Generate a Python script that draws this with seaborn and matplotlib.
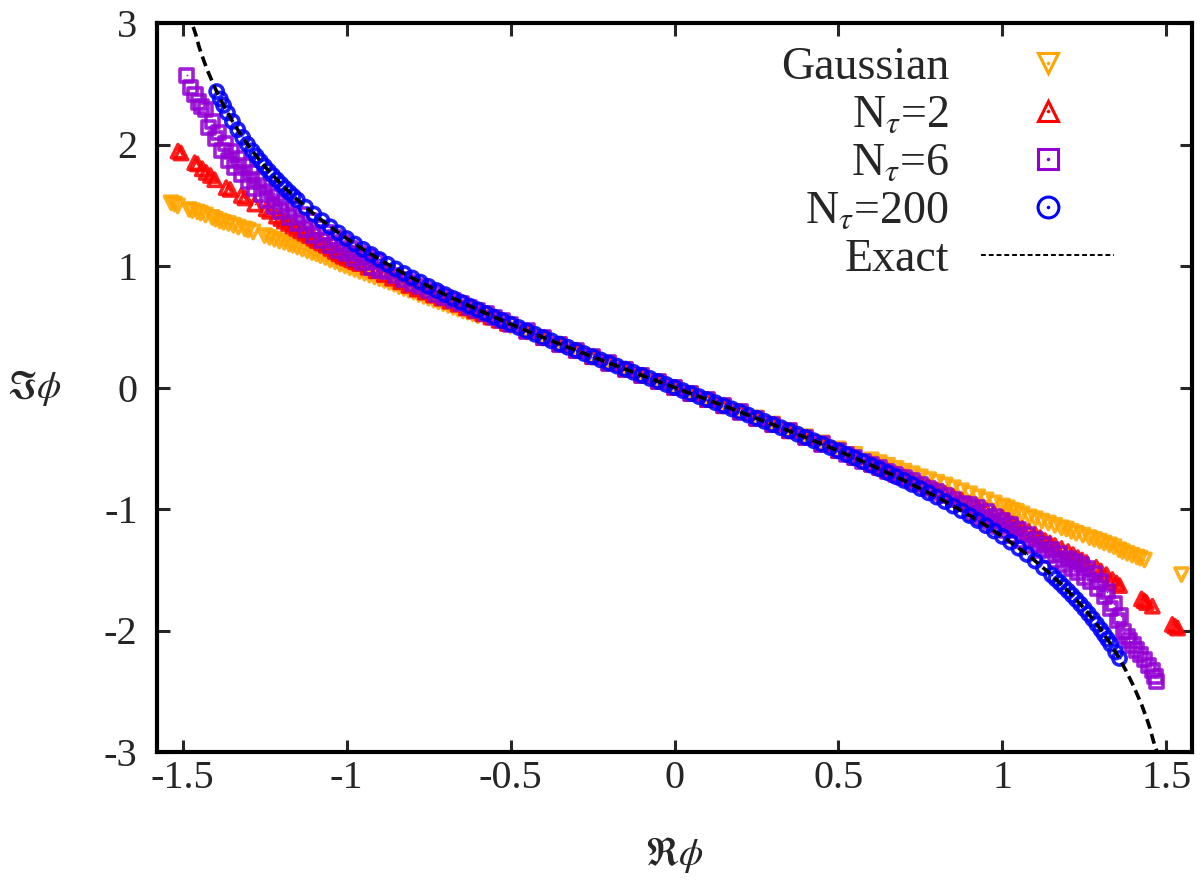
import matplotlib
matplotlib.use('Agg')
import matplotlib.pyplot as plt
from matplotlib.lines import Line2D
import pandas as pd
import seaborn as sns

# ---- data: (Re phi, Im phi) ----
gauss_points = [
    (-1.535, 1.52), (-1.525, 1.51), (-1.515, 1.495), (-1.48, 1.465), (-1.47, 1.455), (-1.455, 1.445),
    (-1.445, 1.435), (-1.43, 1.42), (-1.41, 1.40), (-1.40, 1.385), (-1.387, 1.37), (-1.375, 1.36),
    (-1.36, 1.35), (-1.345, 1.335), (-1.33, 1.32), (-1.31, 1.305), (-1.30, 1.295), (-1.285, 1.28),
    (-1.25, 1.25), (-1.235, 1.235), (-1.22, 1.22), (-1.205, 1.205), (-1.19, 1.195), (-1.175, 1.18),
    (-1.164, 1.17), (-1.15, 1.155), (-1.135, 1.14), (-1.12, 1.125), (-1.105, 1.11), (-1.092, 1.10),
    (-1.08, 1.085), (-1.065, 1.07), (-1.05, 1.05), (-1.035, 1.035), (-1.02, 1.015), (-1.005, 1.00),
    (-0.99, 0.985), (-0.975, 0.97), (-0.96, 0.955), (-0.945, 0.94), (-0.93, 0.925), (-0.915, 0.91),
    (-0.90, 0.895), (-0.885, 0.88), (-0.87, 0.865), (-0.855, 0.85), (-0.84, 0.83), (-0.825, 0.815),
    (-0.81, 0.80), (-0.795, 0.785), (-0.78, 0.765), (-0.765, 0.75), (-0.75, 0.735), (-0.735, 0.72),
    (-0.72, 0.705), (-0.705, 0.69), (-0.69, 0.675), (-0.675, 0.66), (-0.66, 0.645), (-0.645, 0.63),
    (-0.63, 0.62), (-0.615, 0.605), (-0.60, 0.59), (-0.575, 0.575), (-0.55, 0.55), (-0.525, 0.525),
    (-0.50, 0.505), (-0.45, 0.455), (-0.40, 0.405), (-0.35, 0.355), (-0.30, 0.30), (-0.25, 0.25),
    (-0.20, 0.20), (-0.15, 0.15), (-0.10, 0.10), (-0.05, 0.05), (0.0, 0.0), (0.05, -0.05),
    (0.10, -0.10), (0.15, -0.15), (0.20, -0.20), (0.25, -0.25), (0.30, -0.30), (0.35, -0.355),
    (0.40, -0.405), (0.45, -0.455), (0.50, -0.505), (0.55, -0.55), (0.60, -0.595), (0.625, -0.618),
    (0.65, -0.64), (0.675, -0.665), (0.70, -0.688), (0.725, -0.71), (0.75, -0.735), (0.775, -0.758),
    (0.80, -0.78), (0.825, -0.802), (0.85, -0.825), (0.875, -0.85), (0.90, -0.875), (0.925, -0.90),
    (0.95, -0.925), (0.975, -0.95), (1.0, -0.975), (1.015, -0.99), (1.03, -1.01), (1.043, -1.02),
    (1.06, -1.04), (1.082, -1.065), (1.10, -1.08), (1.12, -1.10), (1.14, -1.115), (1.16, -1.135),
    (1.18, -1.155), (1.195, -1.165), (1.21, -1.185), (1.225, -1.20), (1.245, -1.215), (1.265, -1.235),
    (1.28, -1.25), (1.296, -1.265), (1.31, -1.28), (1.326, -1.295), (1.34, -1.31), (1.355, -1.335),
    (1.366, -1.35), (1.38, -1.365), (1.395, -1.38), (1.41, -1.395), (1.42, -1.405), (1.433, -1.42),
    (1.546, -1.54),
]

n2_points = [
    (-1.514, 1.945), (-1.505, 1.93), (-1.463, 1.85), (-1.455, 1.84), (-1.44, 1.80), (-1.428, 1.77),
    (-1.415, 1.745), (-1.402, 1.71), (-1.367, 1.645), (-1.355, 1.63), (-1.321, 1.58), (-1.31, 1.56),
    (-1.28, 1.51), (-1.245, 1.47), (-1.235, 1.45), (-1.214, 1.41), (-1.20, 1.39), (-1.19, 1.37),
    (-1.177, 1.35), (-1.164, 1.33), (-1.152, 1.31), (-1.14, 1.29), (-1.127, 1.27), (-1.113, 1.25),
    (-1.10, 1.23), (-1.09, 1.21), (-1.076, 1.19), (-1.062, 1.17), (-1.048, 1.145), (-1.035, 1.12),
    (-1.023, 1.10), (-1.011, 1.08), (-0.998, 1.065), (-0.985, 1.05), (-0.972, 1.035), (-0.96, 1.02),
    (-0.935, 0.99), (-0.91, 0.96), (-0.885, 0.93), (-0.86, 0.90), (-0.835, 0.87), (-0.81, 0.84),
    (-0.785, 0.81), (-0.76, 0.785), (-0.735, 0.76), (-0.71, 0.735), (-0.685, 0.71), (-0.66, 0.685),
    (-0.635, 0.655), (-0.61, 0.63), (-0.585, 0.605), (-0.56, 0.58), (-0.535, 0.553), (-0.51, 0.527),
    (-0.45, 0.465), (-0.40, 0.41), (-0.35, 0.357), (-0.30, 0.305), (-0.25, 0.253), (-0.20, 0.201),
    (-0.15, 0.151), (-0.10, 0.10), (-0.05, 0.05), (0.0, 0.0), (0.05, -0.05), (0.10, -0.10),
    (0.15, -0.151), (0.20, -0.201), (0.25, -0.253), (0.30, -0.305), (0.35, -0.357), (0.40, -0.41),
    (0.45, -0.465), (0.50, -0.52), (0.55, -0.575), (0.60, -0.63), (0.625, -0.657), (0.65, -0.685),
    (0.675, -0.71), (0.70, -0.735), (0.725, -0.762), (0.75, -0.79), (0.775, -0.817), (0.80, -0.845),
    (0.825, -0.872), (0.85, -0.90), (0.875, -0.927), (0.90, -0.955), (0.925, -0.982), (0.95, -1.01),
    (0.975, -1.04), (1.0, -1.07), (1.015, -1.095), (1.03, -1.12), (1.045, -1.14), (1.06, -1.16),
    (1.08, -1.185), (1.10, -1.21), (1.115, -1.235), (1.13, -1.26), (1.145, -1.28), (1.16, -1.30),
    (1.18, -1.325), (1.20, -1.35), (1.215, -1.375), (1.23, -1.40), (1.243, -1.42), (1.256, -1.44),
    (1.286, -1.48), (1.30, -1.51), (1.317, -1.54), (1.335, -1.58), (1.348, -1.61), (1.357, -1.63),
    (1.424, -1.74), (1.432, -1.755), (1.439, -1.77), (1.457, -1.80), (1.518, -1.95), (1.526, -1.965),
    (1.534, -1.98),
]

n6_points = [
    (-1.488, 2.57), (-1.476, 2.47), (-1.462, 2.41), (-1.451, 2.35), (-1.442, 2.31), (-1.43, 2.29),
    (-1.42, 2.14), (-1.41, 2.19), (-1.40, 2.05), (-1.39, 2.10), (-1.38, 1.95), (-1.37, 2.01),
    (-1.36, 1.87), (-1.35, 1.94), (-1.34, 1.81), (-1.33, 1.88), (-1.32, 1.75), (-1.31, 1.825),
    (-1.30, 1.70), (-1.29, 1.77), (-1.28, 1.64), (-1.27, 1.715), (-1.26, 1.59), (-1.25, 1.665),
    (-1.24, 1.54), (-1.23, 1.615), (-1.22, 1.49), (-1.21, 1.57), (-1.20, 1.45), (-1.1875, 1.525),
    (-1.175, 1.40), (-1.1625, 1.475), (-1.15, 1.35), (-1.1375, 1.425), (-1.125, 1.30), (-1.1125, 1.375),
    (-1.10, 1.25), (-1.0875, 1.32), (-1.075, 1.21), (-1.0625, 1.275), (-1.05, 1.17), (-1.0375, 1.235),
    (-1.025, 1.13), (-1.0125, 1.19), (-1.00, 1.10), (-0.9875, 1.14), (-0.975, 1.06), (-0.9625, 1.105),
    (-0.95, 1.03), (-0.9375, 1.07), (-0.925, 0.99), (-0.9125, 1.035), (-0.90, 0.96), (-0.875, 0.955),
    (-0.85, 0.92), (-0.825, 0.89), (-0.80, 0.86), (-0.775, 0.83), (-0.75, 0.80), (-0.725, 0.77),
    (-0.70, 0.74), (-0.675, 0.715), (-0.65, 0.69), (-0.625, 0.66), (-0.60, 0.635), (-0.575, 0.607),
    (-0.55, 0.578), (-0.525, 0.55), (-0.50, 0.521), (-0.45, 0.465), (-0.40, 0.41), (-0.35, 0.357),
    (-0.30, 0.305), (-0.25, 0.253), (-0.20, 0.201), (-0.15, 0.151), (-0.10, 0.10), (-0.05, 0.05),
    (0.0, 0.0), (0.05, -0.05), (0.10, -0.10), (0.15, -0.151), (0.20, -0.201), (0.25, -0.253),
    (0.30, -0.305), (0.35, -0.357), (0.40, -0.41), (0.45, -0.465), (0.50, -0.521), (0.525, -0.55),
    (0.55, -0.578), (0.575, -0.607), (0.60, -0.635), (0.625, -0.66), (0.65, -0.69), (0.675, -0.715),
    (0.70, -0.74), (0.725, -0.77), (0.75, -0.80), (0.775, -0.83), (0.80, -0.86), (0.825, -0.89),
    (0.85, -0.92), (0.875, -0.955), (0.90, -0.96), (0.9125, -1.035), (0.925, -0.99), (0.9375, -1.07),
    (0.95, -1.025), (0.9625, -1.105), (0.975, -1.06), (0.9875, -1.14), (1.0, -1.095), (1.0125, -1.18),
    (1.025, -1.13), (1.0375, -1.22), (1.05, -1.17), (1.0625, -1.26), (1.075, -1.21), (1.0875, -1.30),
    (1.10, -1.25), (1.1125, -1.34), (1.125, -1.29), (1.1375, -1.38), (1.15, -1.33), (1.1625, -1.42),
    (1.175, -1.37), (1.1875, -1.46), (1.20, -1.41), (1.21, -1.49), (1.22, -1.43), (1.23, -1.52),
    (1.24, -1.46), (1.25, -1.56), (1.26, -1.49), (1.27, -1.60), (1.28, -1.53), (1.29, -1.65),
    (1.30, -1.60), (1.31, -1.72), (1.32, -1.68), (1.33, -1.82), (1.34, -1.78), (1.35, -1.92),
    (1.36, -1.88), (1.37, -2.01), (1.38, -2.05), (1.387, -2.08), (1.398, -2.12), (1.408, -2.16),
    (1.42, -2.20), (1.433, -2.24), (1.445, -2.29), (1.457, -2.33), (1.465, -2.38), (1.47, -2.42),
]

n200_points = [
    (-1.396, 2.436), (-1.385, 2.375), (-1.375, 2.322), (-1.363, 2.26), (-1.348, 2.19), (-1.332, 2.122),
    (-1.317, 2.059), (-1.302, 2.001), (-1.2875, 1.948), (-1.275, 1.904), (-1.2625, 1.862), (-1.25, 1.821),
    (-1.2375, 1.782), (-1.225, 1.745), (-1.2125, 1.709), (-1.20, 1.674), (-1.1875, 1.640), (-1.175, 1.607),
    (-1.1625, 1.575), (-1.15, 1.544), (-1.125, 1.484), (-1.10, 1.428), (-1.075, 1.374), (-1.05, 1.323),
    (-1.025, 1.273), (-1.0, 1.226), (-0.975, 1.181), (-0.95, 1.137), (-0.925, 1.095), (-0.90, 1.054),
    (-0.875, 1.014), (-0.85, 0.976), (-0.825, 0.939), (-0.80, 0.902), (-0.775, 0.867), (-0.75, 0.832),
    (-0.725, 0.798), (-0.70, 0.765), (-0.675, 0.733), (-0.65, 0.701), (-0.625, 0.670), (-0.60, 0.640),
    (-0.575, 0.610), (-0.55, 0.580), (-0.525, 0.551), (-0.50, 0.522), (-0.475, 0.494), (-0.45, 0.466),
    (-0.425, 0.438), (-0.40, 0.411), (-0.375, 0.384), (-0.35, 0.357), (-0.325, 0.331), (-0.30, 0.305),
    (-0.275, 0.279), (-0.25, 0.253), (-0.225, 0.227), (-0.20, 0.201), (-0.175, 0.176), (-0.15, 0.151),
    (-0.125, 0.125), (-0.10, 0.100), (-0.075, 0.075), (-0.05, 0.050), (-0.025, 0.025), (0.0, 0.0),
    (0.025, -0.025), (0.05, -0.050), (0.075, -0.075), (0.10, -0.100), (0.125, -0.125), (0.15, -0.151),
    (0.175, -0.176), (0.20, -0.201), (0.225, -0.227), (0.25, -0.253), (0.275, -0.279), (0.30, -0.305),
    (0.325, -0.331), (0.35, -0.357), (0.375, -0.384), (0.40, -0.411), (0.425, -0.438), (0.45, -0.466),
    (0.475, -0.494), (0.50, -0.522), (0.525, -0.551), (0.55, -0.580), (0.575, -0.610), (0.60, -0.640),
    (0.625, -0.670), (0.65, -0.701), (0.675, -0.733), (0.70, -0.765), (0.725, -0.798), (0.75, -0.832),
    (0.775, -0.867), (0.80, -0.902), (0.825, -0.939), (0.85, -0.976), (0.875, -1.014), (0.90, -1.054),
    (0.925, -1.095), (0.95, -1.137), (0.975, -1.181), (1.0, -1.226), (1.025, -1.273), (1.05, -1.323),
    (1.075, -1.374), (1.10, -1.428), (1.125, -1.484), (1.15, -1.544), (1.1625, -1.575), (1.175, -1.607),
    (1.1875, -1.640), (1.20, -1.674), (1.2125, -1.709), (1.225, -1.745), (1.2375, -1.782), (1.25, -1.821),
    (1.2625, -1.862), (1.275, -1.904), (1.2875, -1.948), (1.30, -1.993), (1.31, -2.032), (1.32, -2.071),
    (1.33, -2.112), (1.345, -2.177), (1.357, -2.23),
]

exact_points = [
    (-1.48, 3.091), (-1.47, 2.987), (-1.46, 2.907), (-1.45, 2.806), (-1.44, 2.726), (-1.425, 2.615),
    (-1.40, 2.458), (-1.375, 2.322), (-1.35, 2.200), (-1.325, 2.092), (-1.30, 1.993), (-1.275, 1.904),
    (-1.25, 1.821), (-1.20, 1.674), (-1.15, 1.544), (-1.10, 1.428), (-1.05, 1.323), (-1.0, 1.226),
    (-0.95, 1.137), (-0.90, 1.054), (-0.85, 0.976), (-0.80, 0.902), (-0.70, 0.765), (-0.60, 0.640),
    (-0.50, 0.522), (-0.40, 0.411), (-0.30, 0.305), (-0.20, 0.201), (-0.10, 0.100), (0.0, 0.0),
    (0.10, -0.100), (0.20, -0.201), (0.30, -0.305), (0.40, -0.411), (0.50, -0.522), (0.60, -0.640),
    (0.70, -0.765), (0.80, -0.902), (0.85, -0.976), (0.90, -1.054), (0.95, -1.137), (1.0, -1.226),
    (1.05, -1.323), (1.10, -1.428), (1.15, -1.544), (1.20, -1.674), (1.25, -1.821), (1.275, -1.904),
    (1.30, -1.993), (1.325, -2.092), (1.35, -2.200), (1.375, -2.322), (1.40, -2.458), (1.425, -2.615),
    (1.44, -2.726), (1.45, -2.806), (1.46, -2.907), (1.47, -2.987), (1.48, -3.091),
]

x_ticks = [-1.5, -1, -0.5, 0, 0.5, 1, 1.5]
x_tick_labels = ['-1.5', '-1', '-0.5', '0', '0.5', '1', '1.5']
y_ticks = [-3, -2, -1, 0, 1, 2, 3]
y_tick_labels = ['-3', '-2', '-1', '0', '1', '2', '3']

labels = ['Gaussian', r'N$_\tau$=2', r'N$_\tau$=6', r'N$_\tau$=200', 'Exact']
colors = {'Gaussian': '#ffa500', 'N2': '#ff0000', 'N6': '#9400d3', 'N200': '#0000ff'}
markers = {'Gaussian': 'v', 'N2': '^', 'N6': 's', 'N200': 'o'}

if __name__ == '__main__':
    sns.set_style('ticks')
    plt.rcParams['font.family'] = ['Liberation Serif', 'DejaVu Serif']
    plt.rcParams['mathtext.fontset'] = 'stix'
    plt.rcParams['axes.unicode_minus'] = False

    f = plt.figure(figsize=(12.01, 8.84), dpi=100)
    ax = f.add_axes([157 / 1201, 1 - 752 / 884, 1035 / 1201, 729 / 884])

    series = [('Gaussian', gauss_points), ('N2', n2_points), ('N6', n6_points), ('N200', n200_points)]
    handles = []
    for key, pts in series:
        df = pd.DataFrame(pts, columns=['re', 'im'])
        c = colors[key]
        sns.scatterplot(ax=ax, data=df, x='re', y='im', marker=markers[key], s=90,
                        color=c, facecolor='none', edgecolor=c, linewidth=2.6, alpha=0.88, zorder=2)
        sns.scatterplot(ax=ax, data=df, x='re', y='im', marker='.', s=6,
                        color=c, linewidth=0, zorder=2)
        h_mark = Line2D([], [], ls='none', marker=markers[key], ms=15, mfc='none', mec=c, mew=2.2)
        h_dot = Line2D([], [], ls='none', marker='.', ms=3, color=c)
        handles.append((h_mark, h_dot))

    exact_df = pd.DataFrame(exact_points, columns=['re', 'im'])
    sns.lineplot(ax=ax, data=exact_df, x='re', y='im', color='black', lw=2.6,
                 linestyle=(0, (2.8, 1.5)), errorbar=None, zorder=3)
    handles.append(Line2D([], [], color='black', lw=1.4, linestyle=(0, (2.5, 1.5))))

    ax.set_xlim(-1.578, 1.578)
    ax.set_ylim(-3, 3)
    ax.set_xticks(x_ticks)
    ax.set_xticklabels(x_tick_labels)
    ax.set_yticks(y_ticks)
    ax.set_yticklabels(y_tick_labels)
    ax.tick_params(direction='in', length=9, width=2.2, top=True, right=True,
                   labelsize=29, pad=6)
    ax.tick_params(axis='y', pad=14)
    for sp in ax.spines.values():
        sp.set_linewidth(3)
        sp.set_color('black')

    ax.set_xlabel(r'$\Re\phi$', fontsize=28, va='center')
    ax.xaxis.set_label_coords(0.5, -0.141)
    ax.set_ylabel(r'$\Im\phi$', fontsize=28, rotation=0, ha='center', va='center')
    ax.yaxis.set_label_coords(-0.118, 0.5)

    legend = ax.legend(handles, labels, loc='upper right', bbox_to_anchor=(0.925, 0.968),
                       frameon=False, markerfirst=False, fontsize=33, handlelength=2.9,
                       handletextpad=0.7, labelspacing=0.12, borderaxespad=0, borderpad=0)
    # right-align the label column like the original key
    for col in legend._legend_box.get_children()[1].get_children():
        col.align = 'right'

    f.savefig('out.png', dpi=100)
